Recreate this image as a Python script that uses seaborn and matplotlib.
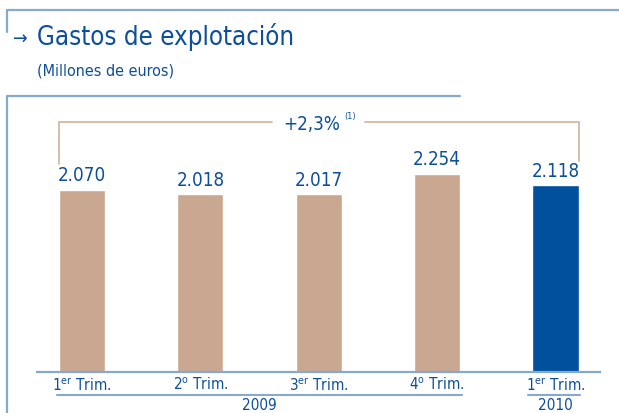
import numpy as np
import matplotlib
matplotlib.use("Agg")
import matplotlib.pyplot as plt
import matplotlib.transforms as mtransforms
from matplotlib.lines import Line2D
import seaborn as sns
import pandas as pd

sns.set_style("white")

FONT = ['DejaVu Sans']
plt.rcParams['font.family'] = FONT
plt.rcParams['font.stretch'] = 'condensed'
plt.rcParams['mathtext.fontset'] = 'custom'
plt.rcParams['mathtext.rm'] = 'DejaVu Sans:stretch=condensed'
plt.rcParams['mathtext.default'] = 'regular'

# data
quarters = ["1T09", "2T09", "3T09", "4T09", "1T10"]
values = [2070, 2018, 2017, 2254, 2118]
value_labels = ["2.070", "2.018", "2.017", "2.254", "2.118"]
tick_labels = ["1$^{er}$ Trim.", "2$^{o}$ Trim.", "3$^{er}$ Trim.", "4$^{o}$ Trim.", "1$^{er}$ Trim."]
years = ["2009", "2010"]
change_label = "+2,3%"

TAN = "#c9a791"
BLUE = "#00509d"
TXT = "#0d4f9a"
FRAME = "#86a9d0"
BRACKET = "#d4b7a6"

W, H = 619, 414
fig = plt.figure(figsize=(W / 100, H / 100), dpi=100)

# main axes: baseline at y=373px, spanning x 37..600px
ax = fig.add_axes([37 / W, 1 - 373 / H, (600 - 37) / W, (373 - 100) / H])
df = pd.DataFrame({"q": quarters, "v": values})
sns.barplot(data=df, x="q", y="v", hue="q", palette=[TAN] * 4 + [BLUE],
            width=0.39, legend=False, ax=ax, saturation=1)
ax.set_xlim(-0.380, 4.376)
ax.set_ylim(0, 3100)
ax.set_xlabel("")
ax.set_ylabel("")
ax.set_xticks([])
ax.set_yticks([])
for s in ["top", "left", "right"]:
    ax.spines[s].set_visible(False)
ax.spines["bottom"].set_color(FRAME)
ax.spines["bottom"].set_linewidth(1.6)

# value labels
for i, (v, lab) in enumerate(zip(values, value_labels)):
    ax.annotate(lab, (i, v), xytext=(0, 4), textcoords="offset points",
                ha="center", va="bottom", fontsize=13.5, color=TXT)

# bracket for the change
half = 0.195
left_x, right_x = 0 - half, len(values) - 1 + half
top_y = 2838
ax.plot([left_x, left_x, 1.605], [2360, top_y, top_y], color=BRACKET, lw=1.3,
        clip_on=False, solid_joinstyle="miter")
ax.plot([2.391, right_x, right_x], [top_y, top_y, 2395], color=BRACKET, lw=1.3,
        clip_on=False, solid_joinstyle="miter")
ax.text(1.94, top_y - 20, change_label, ha="center", va="center", fontsize=13.5,
        color=TXT)
ax.text(2.215, top_y + 80, "(1)", ha="left", va="center", fontsize=6.5, color=TXT)

# category labels, underlines and years
tr = mtransforms.blended_transform_factory(ax.transData, fig.transFigure)
for i, lab in enumerate(tick_labels):
    ax.text(i, 1 - 385 / H, lab, transform=tr, ha="center", va="center",
            fontsize=11, color=TXT, clip_on=False)
uy = 1 - 396 / H
fig.add_artist(Line2D([-0.211, 3.211], [uy, uy], transform=tr, color=FRAME, lw=1.5))
fig.add_artist(Line2D([3.77, 4.21], [uy, uy], transform=tr, color=FRAME, lw=1.5))
ax.text(1.5, 1 - 406 / H, years[0], transform=tr, ha="center", va="center",
        fontsize=11, color=TXT, clip_on=False)
ax.text(4, 1 - 406 / H, years[1], transform=tr, ha="center", va="center",
        fontsize=11, color=TXT, clip_on=False)

# frame lines
def fl(xs, ys):
    fig.add_artist(Line2D([x / W for x in xs], [1 - y / H for y in ys],
                          transform=fig.transFigure, color=FRAME, lw=1.6))

fl([7, 7, W], [33, 10.5, 10.5])
fl([7, 7, 460], [H, 97, 97])

# title
fig.text(13 / W, 1 - 45 / H, "\u2192", fontsize=14, color=TXT, va="baseline")
fig.text(37 / W, 1 - 45 / H, "Gastos de explotación", fontsize=18.5, color=TXT,
         va="baseline")
fig.text(37 / W, 1 - 76 / H, "(Millones de euros)", fontsize=11.5, color=TXT,
         va="baseline")

fig.savefig("out.png", dpi=100)
